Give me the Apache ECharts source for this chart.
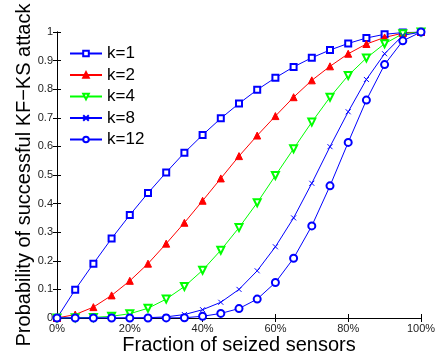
<!DOCTYPE html>
<html>
<head>
<meta charset="utf-8">
<script src="https://cdn.jsdelivr.net/npm/echarts@6/dist/echarts.min.js"></script>
<style>html,body{margin:0;padding:0;background:#fff}#c{width:444px;height:360px}</style>
</head>
<body>
<div id="c"></div>
<script>
var fractions = [0,5,10,15,20,25,30,35,40,45,50,55,60,65,70,75,80,85,90,95,100];
var k1 = [0,0.099,0.19,0.278,0.36,0.437,0.509,0.578,0.64,0.698,0.75,0.798,0.84,0.878,0.91,0.937,0.96,0.979,0.992,0.998,1];
var k2 = [0,0.012,0.038,0.079,0.13,0.19,0.26,0.333,0.41,0.488,0.566,0.638,0.706,0.772,0.831,0.88,0.924,0.958,0.981,0.996,1];
var k4 = [0,0.0005,0.002,0.006,0.015,0.034,0.066,0.11,0.167,0.237,0.316,0.403,0.498,0.592,0.685,0.772,0.848,0.909,0.959,0.994,1];
var k8 = [0,0,0,0,0.0003,0.001,0.004,0.012,0.029,0.055,0.1,0.165,0.249,0.35,0.471,0.599,0.721,0.834,0.924,0.988,1];
var k12 = [0,0,0,0,0,0,0.0003,0.001,0.006,0.016,0.033,0.066,0.124,0.209,0.322,0.462,0.614,0.762,0.886,0.969,1];
var seriesNames = ['k=1','k=2','k=4','k=8','k=12'];
var xTitle = 'Fraction of seized sensors';
var yTitle = 'Probability of successful KF\u2212KS attack';

var FONT = 'Liberation Sans, Arial, sans-serif';
function pairs(ys){ return fractions.map(function(x,i){ return [x, ys[i]]; }); }
function mk(name, ys, color, symbol, rot, size){
  return {
    name: name, type: 'line', data: pairs(ys),
    symbol: symbol, symbolSize: size, symbolRotate: rot || 0,
    showAllSymbol: true, animation: false,
    lineStyle: {color: color, width: 1},
    itemStyle: {color: color, borderColor: color, borderWidth: 1},
    emphasis: {disabled: true},
    xAxisIndex: 0, yAxisIndex: 0, z: 3
  };
}
var xPath = 'path://M0,0L10,10M10,0L0,10';
var chart = echarts.init(document.getElementById('c'), null, {renderer: 'canvas'});
var axisCommon = {
  axisLine: {show: true, lineStyle: {color: '#000', width: 1}},
  axisTick: {show: true, inside: true, length: 4, lineStyle: {color: '#000'}},
  splitLine: {show: false}
};
chart.setOption({
  animation: false,
  backgroundColor: '#fff',
  grid: {left: 57, right: 23, top: 32, bottom: 41, containLabel: false},
  legend: {
    orient: 'vertical', left: 69, top: 45, padding: 0,
    itemWidth: 32, itemHeight: 7, itemGap: 4.5,
    textStyle: {fontFamily: FONT, fontSize: 17, color: '#000', lineHeight: 17},
    data: seriesNames
  },
  xAxis: [
    Object.assign({type: 'value', min: 0, max: 100, interval: 20, position: 'bottom',
      name: xTitle, nameLocation: 'middle', nameGap: 17, nameMoveOverlap: false,
      nameTextStyle: {fontFamily: FONT, fontSize: 20, color: '#000'},
      axisLabel: {formatter: '{value}%', fontFamily: FONT, fontSize: 11, color: '#222', margin: 5}
    }, axisCommon),
    Object.assign({type: 'value', min: 0, max: 100, interval: 20, position: 'top',
      axisLabel: {show: false}}, axisCommon)
  ],
  yAxis: [
    Object.assign({type: 'value', min: 0, max: 1, interval: 0.1, position: 'left',
      name: yTitle, nameLocation: 'middle', nameGap: 23, nameMoveOverlap: false,
      nameTextStyle: {fontFamily: FONT, fontSize: 20, color: '#000'},
      axisLabel: {fontFamily: FONT, fontSize: 11, color: '#222', margin: 4}
    }, axisCommon),
    Object.assign({type: 'value', min: 0, max: 1, interval: 0.1, position: 'right',
      axisLabel: {show: false}}, axisCommon)
  ],
  series: [
    mk(seriesNames[0], k1, '#0000ff', 'emptyRect', 0, 6),
    mk(seriesNames[1], k2, '#ff0000', 'triangle', 0, 7),
    mk(seriesNames[2], k4, '#00ff00', 'emptyTriangle', 180, 7),
    mk(seriesNames[3], k8, '#0000ff', xPath, 0, 5),
    mk(seriesNames[4], k12, '#0000ff', 'emptyCircle', 0, 7)
  ]
});
</script>
</body>
</html>
